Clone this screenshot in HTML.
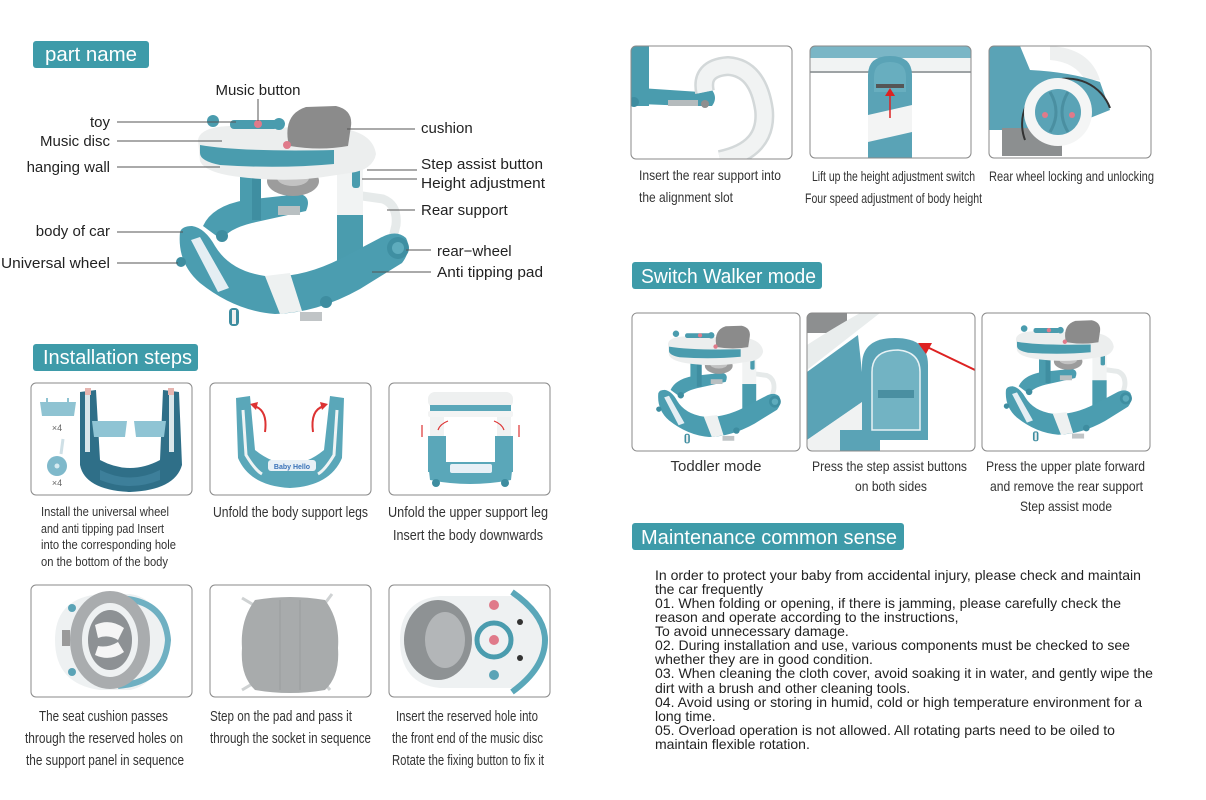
<!DOCTYPE html>
<html><head><meta charset="utf-8">
<style>
html,body{margin:0;padding:0;background:#fff;}
svg{display:block;}
text{font-family:"Liberation Sans",Arial,sans-serif;}
</style></head>
<body>
<svg width="1206" height="800" viewBox="0 0 1206 800" xmlns="http://www.w3.org/2000/svg">
<defs>
 <g id="walker">
  <!-- back arm of base -->
  <path d="M203 226 Q212 206 245 200 L300 194 Q312 197 306 211 L252 223 Q228 229 222 240 Z" fill="#4b9db0"/>
  <rect x="278" y="206" width="22" height="9" fill="#b9c0c2"/>
  <circle cx="222" cy="236" r="6" fill="#3e8da0"/>
  <!-- left column -->
  <rect x="240" y="168" width="21" height="52" fill="#4a9cae"/>
  <rect x="252" y="168" width="9" height="52" fill="#3f8ea1"/>
  <!-- seat fabric -->
  <ellipse cx="293" cy="181" rx="26" ry="15" fill="#9c9c9c"/>
  <ellipse cx="293" cy="178" rx="16" ry="8" fill="#c2c2c2"/>
  <!-- rear support -->
  <path d="M355 195 L383 199 Q398 205 396 225 L391 246" stroke="#e6eaea" stroke-width="9" fill="none" stroke-linecap="round"/>
  <!-- right column -->
  <rect x="337" y="158" width="26" height="62" fill="#f1f3f3"/>
  <rect x="337" y="215" width="26" height="62" fill="#4a9cae"/>
  <rect x="352" y="168" width="8" height="20" rx="3" fill="#4a9cae"/>
  <!-- base front -->
  <path d="M180 232 Q177 263 200 283 Q235 311 275 314 Q317 313 360 289 L402 263 Q412 250 406 238 Q396 229 380 238 L340 259 Q300 279 265 276 Q230 271 215 246 Q205 228 192 226 Q182 226 180 232 Z" fill="#4b9db0"/>
  <path d="M265 276 L290 273 L302 311 L280 314 Z" fill="#eef1f1"/>
  <path d="M191 240 L200 237 L229 288 L218 292 Z" fill="#e4eef3"/>
  <!-- rear wheel -->
  <circle cx="398" cy="248" r="11" fill="#3f8fa2"/>
  <circle cx="398" cy="248" r="6" fill="#5eacbd"/>
  <!-- small wheels -->
  <rect x="229" y="308" width="10" height="18" rx="4" fill="#3e8da0"/>
  <rect x="232" y="310" width="4" height="14" fill="#f0f0f0"/>
  <circle cx="326" cy="302" r="6" fill="#3e8da0"/>
  <circle cx="181" cy="262" r="5" fill="#3e8da0"/>
  <rect x="300" y="312" width="22" height="9" fill="#c0c4c6"/>
  <!-- tray -->
  <path d="M198 140 Q200 127 230 126 L345 129 Q373 134 376 154 Q373 170 350 173 L330 176 Q290 183 240 177 Q205 173 200 161 Z" fill="#eceeee"/>
  <path d="M200 145 Q240 152 334 150 L334 164 Q280 169 220 165 Q200 161 200 153 Z" fill="#4a9cae"/>
  <!-- seat back -->
  <path d="M288 141 Q284 114 306 107 L336 106 Q353 110 351 126 L348 146 Q320 151 290 146 Z" fill="#8b8b8b"/>
  <!-- toys -->
  <circle cx="213" cy="121" r="6" fill="#4a9cae"/>
  <rect x="230" y="120" width="48" height="9" rx="4" fill="#4a9cae"/>
  <circle cx="258" cy="124" r="4" fill="#e07a8a"/>
  <circle cx="279" cy="124" r="6" fill="#4a9cae"/>
  <circle cx="287" cy="145" r="4" fill="#e07a8a"/>
 </g>
 <clipPath id="c1"><rect x="31" y="383" width="161" height="112" rx="5"/></clipPath>
 <clipPath id="c2"><rect x="210" y="383" width="161" height="112" rx="5"/></clipPath>
 <clipPath id="c3"><rect x="389" y="383" width="161" height="112" rx="5"/></clipPath>
 <clipPath id="c4"><rect x="31" y="585" width="161" height="112" rx="5"/></clipPath>
 <clipPath id="c5"><rect x="210" y="585" width="161" height="112" rx="5"/></clipPath>
 <clipPath id="c6"><rect x="389" y="585" width="161" height="112" rx="5"/></clipPath>
 <clipPath id="r1"><rect x="631" y="46" width="161" height="113" rx="5"/></clipPath>
 <clipPath id="r2"><rect x="810" y="46" width="161" height="112" rx="5"/></clipPath>
 <clipPath id="r3"><rect x="989" y="46" width="162" height="112" rx="5"/></clipPath>
 <clipPath id="s2"><rect x="807" y="313" width="168" height="138" rx="5"/></clipPath>
</defs>

<!-- ===== headers ===== -->
<rect x="33" y="41" width="116" height="27" rx="3" fill="#3e9ba9"/>
<text x="45" y="61" font-size="20" fill="#fff" textLength="92" lengthAdjust="spacingAndGlyphs">part name</text>
<rect x="33" y="344" width="165" height="27" rx="3" fill="#3e9ba9"/>
<text x="43" y="364" font-size="20" fill="#fff" textLength="149" lengthAdjust="spacingAndGlyphs">Installation steps</text>
<rect x="632" y="262" width="190" height="27" rx="3" fill="#3e9ba9"/>
<text x="641" y="283" font-size="20" fill="#fff" textLength="175" lengthAdjust="spacingAndGlyphs">Switch Walker mode</text>
<rect x="632" y="523" width="272" height="27" rx="3" fill="#3e9ba9"/>
<text x="641" y="544" font-size="20" fill="#fff" textLength="256" lengthAdjust="spacingAndGlyphs">Maintenance common sense</text>

<!-- ===== part name diagram ===== -->
<use href="#walker"/>
<g stroke="#555" stroke-width="1">
 <line x1="117" y1="122" x2="236" y2="122"/>
 <line x1="117" y1="141" x2="222" y2="141"/>
 <line x1="117" y1="167" x2="220" y2="167"/>
 <line x1="117" y1="232" x2="183" y2="232"/>
 <line x1="117" y1="263" x2="178" y2="263"/>
 <line x1="258" y1="99" x2="258" y2="121"/>
 <line x1="347" y1="129" x2="415" y2="129"/>
 <line x1="367" y1="170" x2="417" y2="170"/>
 <line x1="362" y1="179" x2="417" y2="179"/>
 <line x1="387" y1="210" x2="415" y2="210"/>
 <line x1="406" y1="250" x2="431" y2="250"/>
 <line x1="372" y1="272" x2="431" y2="272"/>
</g>
<g font-size="15" fill="#222">
 <text x="110" y="127" text-anchor="end">toy</text>
 <text x="110" y="146" text-anchor="end">Music disc</text>
 <text x="110" y="172" text-anchor="end">hanging wall</text>
 <text x="110" y="236" text-anchor="end">body of car</text>
 <text x="110" y="268" text-anchor="end" textLength="109" lengthAdjust="spacingAndGlyphs">Universal wheel</text>
 <text x="258" y="95" text-anchor="middle">Music button</text>
 <text x="421" y="133">cushion</text>
 <text x="421" y="169" textLength="122" lengthAdjust="spacingAndGlyphs">Step assist button</text>
 <text x="421" y="188" textLength="124" lengthAdjust="spacingAndGlyphs">Height adjustment</text>
 <text x="421" y="215">Rear support</text>
 <text x="437" y="256">rear−wheel</text>
 <text x="437" y="277" textLength="106" lengthAdjust="spacingAndGlyphs">Anti tipping pad</text>
</g>

<!-- ===== installation boxes row 1 ===== -->
<g clip-path="url(#c1)">
 <path d="M40 402 L76 402 L74 416 L42 416 Z" fill="#8fc3d2"/>
 <rect x="46" y="398" width="2" height="5" fill="#8fc3d2"/><rect x="67" y="398" width="2" height="5" fill="#8fc3d2"/>
 <text x="57" y="431" font-size="9" fill="#666" text-anchor="middle">×4</text>
 <line x1="61" y1="454" x2="63" y2="439" stroke="#cfe0e6" stroke-width="3"/>
 <circle cx="57" cy="466" r="10" fill="#7fb9cb"/>
 <circle cx="57" cy="466" r="2.5" fill="#d6eaf0"/>
 <text x="57" y="486" font-size="9" fill="#666" text-anchor="middle">×4</text>
 <path d="M80 392 L96 390 L100 460 Q130 476 160 460 L163 390 L179 392 L182 465 Q175 490 130 492 Q85 490 80 465 Z" fill="#2f6f88"/>
 <rect x="85" y="392" width="5" height="60" fill="#d9e6ea"/>
 <rect x="169" y="392" width="5" height="60" fill="#d9e6ea"/>
 <rect x="85" y="388" width="6" height="7" fill="#e7b5b0"/><rect x="168" y="388" width="6" height="7" fill="#e7b5b0"/>
 <path d="M92 421 L127 421 L125 437 L94 437 Z" fill="#8fc4d4"/>
 <path d="M134 421 L166 421 L164 437 L136 437 Z" fill="#8fc4d4"/>
 <path d="M100 470 Q130 485 160 470 L160 480 Q130 492 100 480 Z" fill="#3d7f9a"/>
</g>
<rect x="31" y="383" width="161" height="112" rx="5" fill="none" stroke="#8a8a8a"/>

<g clip-path="url(#c2)">
 <path d="M236 398 L250 396 L255 450 Q290 478 324 450 L330 396 L344 398 L342 458 Q330 486 290 488 Q250 486 238 458 Z" fill="#5aa7b9"/>
 <path d="M243 410 L246 455 Q255 470 262 474" stroke="#eef3f4" stroke-width="3" fill="none"/>
 <path d="M337 410 L334 455 Q325 470 318 474" stroke="#eef3f4" stroke-width="3" fill="none"/>
 <rect x="268" y="460" width="48" height="11" rx="3" fill="#e8f0f6"/>
 <text x="292" y="469" font-size="7" fill="#3a72b8" text-anchor="middle" font-weight="bold">Baby Hello</text>
 <path d="M265 432 Q268 410 254 406" stroke="#d33" stroke-width="2" fill="none"/>
 <path d="M250 404 L258 402 L256 410 Z" fill="#d33"/>
 <path d="M313 432 Q310 410 324 406" stroke="#d33" stroke-width="2" fill="none"/>
 <path d="M328 404 L320 402 L322 410 Z" fill="#d33"/>
</g>
<rect x="210" y="383" width="161" height="112" rx="5" fill="none" stroke="#8a8a8a"/>

<g clip-path="url(#c3)">
 <rect x="428" y="392" width="85" height="16" rx="7" fill="#eef0f0"/>
 <rect x="430" y="405" width="81" height="7" fill="#5aa7b9"/>
 <rect x="428" y="411" width="85" height="6" rx="2" fill="#f3f4f4"/>
 <rect x="430" y="417" width="14" height="20" fill="#f0f2f2"/>
 <rect x="497" y="417" width="14" height="20" fill="#f0f2f2"/>
 <rect x="428" y="436" width="18" height="36" fill="#5aa7b9"/>
 <rect x="495" y="436" width="18" height="36" fill="#5aa7b9"/>
 <path d="M428 462 L513 462 L511 480 Q470 488 430 480 Z" fill="#5aa7b9"/>
 <rect x="450" y="464" width="42" height="9" rx="2" fill="#e8f0f6"/>
 <circle cx="436" cy="483" r="4" fill="#3e8da0"/><circle cx="505" cy="483" r="4" fill="#3e8da0"/>
 <g stroke="#d33" stroke-width="1.2" fill="none">
  <line x1="422" y1="425" x2="422" y2="437"/><line x1="519" y1="425" x2="519" y2="437"/>
  <path d="M448 421 Q440 424 438 430"/><path d="M494 421 Q502 424 504 430"/>
 </g>
</g>
<rect x="389" y="383" width="161" height="112" rx="5" fill="none" stroke="#8a8a8a"/>

<g font-size="15" fill="#333">
 <text x="41" y="516" font-size="13" textLength="128" lengthAdjust="spacingAndGlyphs">Install the universal wheel</text>
 <text x="41" y="533" font-size="13" textLength="123" lengthAdjust="spacingAndGlyphs">and anti tipping pad Insert</text>
 <text x="41" y="549" font-size="13" textLength="135" lengthAdjust="spacingAndGlyphs">into the corresponding hole</text>
 <text x="41" y="566" font-size="13" textLength="127" lengthAdjust="spacingAndGlyphs">on the bottom of the body</text>
 <text x="213" y="517" textLength="155" lengthAdjust="spacingAndGlyphs">Unfold the body support legs</text>
 <text x="388" y="517" textLength="160" lengthAdjust="spacingAndGlyphs">Unfold the upper support leg</text>
 <text x="393" y="540" textLength="150" lengthAdjust="spacingAndGlyphs">Insert the body downwards</text>
</g>

<!-- ===== installation boxes row 2 ===== -->
<g clip-path="url(#c4)">
 <path d="M55 640 Q55 598 100 594 L130 594 Q160 598 165 640 Q160 684 130 690 L100 690 Q55 684 55 640 Z" fill="#eef1f2"/>
 <path d="M118 598 Q165 600 168 640 Q165 682 118 686" stroke="#6fb0c2" stroke-width="6" fill="none"/>
 <ellipse cx="110" cy="640" rx="34" ry="43" fill="none" stroke="#a9acae" stroke-width="12"/>
 <ellipse cx="110" cy="640" rx="22" ry="30" fill="#8d9194"/>
 <path d="M95 625 Q110 618 124 628 L118 640 Q108 634 98 638 Z" fill="#f5f5f5"/>
 <path d="M95 655 Q110 662 124 652 L118 642 Q108 648 98 646 Z" fill="#f5f5f5"/>
 <rect x="62" y="630" width="8" height="16" fill="#9a9a9a"/>
 <circle cx="72" cy="608" r="4" fill="#5aa3b6"/><circle cx="72" cy="672" r="4" fill="#5aa3b6"/>
</g>
<rect x="31" y="585" width="161" height="112" rx="5" fill="none" stroke="#8a8a8a"/>

<g clip-path="url(#c5)">
 <g stroke="#cfd2d3" stroke-width="3">
  <line x1="262" y1="610" x2="242" y2="598"/><line x1="320" y1="610" x2="332" y2="594"/>
  <line x1="262" y1="678" x2="242" y2="690"/><line x1="320" y1="678" x2="330" y2="690"/>
 </g>
 <path d="M255 600 Q290 594 325 600 Q340 620 338 648 Q340 676 325 690 Q290 696 255 690 Q240 676 242 648 Q240 620 255 600 Z" fill="#a8abac"/>
 <line x1="280" y1="600" x2="280" y2="690" stroke="#9a9d9e"/>
 <line x1="300" y1="600" x2="300" y2="690" stroke="#9a9d9e"/>
</g>
<rect x="210" y="585" width="161" height="112" rx="5" fill="none" stroke="#8a8a8a"/>

<g clip-path="url(#c6)">
 <path d="M400 640 Q400 600 440 596 L520 596 Q545 610 545 640 Q545 672 520 688 L440 688 Q400 684 400 640 Z" fill="#eef1f2"/>
 <ellipse cx="438" cy="640" rx="34" ry="40" fill="#8e9294"/>
 <ellipse cx="445" cy="640" rx="20" ry="28" fill="#b3b6b8"/>
 <path d="M512 592 Q545 615 545 640 Q545 668 512 692" stroke="#5aa7b9" stroke-width="6" fill="none"/>
 <circle cx="494" cy="640" r="17" fill="none" stroke="#4a9cae" stroke-width="5"/>
 <circle cx="494" cy="640" r="5" fill="#e07a8a"/>
 <circle cx="494" cy="605" r="5" fill="#e07a8a"/><circle cx="520" cy="622" r="3" fill="#333"/><circle cx="520" cy="658" r="3" fill="#333"/>
 <circle cx="494" cy="675" r="5" fill="#5aa3b6"/>
</g>
<rect x="389" y="585" width="161" height="112" rx="5" fill="none" stroke="#8a8a8a"/>

<g font-size="15" fill="#333">
 <text x="39" y="721" textLength="129" lengthAdjust="spacingAndGlyphs">The seat cushion passes</text>
 <text x="25" y="743" textLength="158" lengthAdjust="spacingAndGlyphs">through the reserved holes on</text>
 <text x="26" y="765" textLength="158" lengthAdjust="spacingAndGlyphs">the support panel in sequence</text>
 <text x="210" y="721" textLength="142" lengthAdjust="spacingAndGlyphs">Step on the pad and pass it</text>
 <text x="210" y="743" textLength="161" lengthAdjust="spacingAndGlyphs">through the socket in sequence</text>
 <text x="396" y="721" textLength="142" lengthAdjust="spacingAndGlyphs">Insert the reserved hole into</text>
 <text x="392" y="743" textLength="151" lengthAdjust="spacingAndGlyphs">the front end of the music disc</text>
 <text x="392" y="765" textLength="152" lengthAdjust="spacingAndGlyphs">Rotate the fixing button to fix it</text>
</g>

<!-- ===== right top boxes ===== -->
<g clip-path="url(#r1)">
 <rect x="631" y="46" width="18" height="60" fill="#4a9cae"/>
 <path d="M640 88 L700 92 L712 90 Q718 98 712 106 L690 106 L640 104 Z" fill="#4a9cae"/>
 <rect x="668" y="100" width="30" height="6" fill="#b5bbbd"/>
 <circle cx="705" cy="104" r="4" fill="#8f8f8f"/>
 <circle cx="634" cy="102" r="5" fill="#3e8da0"/>
 <path d="M705 92 Q700 68 728 66 Q758 68 764 110 Q768 150 720 160" stroke="#d3d8d9" stroke-width="20" fill="none"/>
 <path d="M705 92 Q700 68 728 66 Q758 68 764 110 Q768 150 720 160" stroke="#f1f3f3" stroke-width="15" fill="none"/>
</g>
<rect x="631" y="46" width="161" height="113" rx="5" fill="none" stroke="#8a8a8a"/>

<g clip-path="url(#r2)">
 <rect x="810" y="46" width="161" height="14" fill="#7ab6c6"/>
 <rect x="810" y="58" width="161" height="14" fill="#f1f3f3"/>
 <line x1="810" y1="72" x2="971" y2="72" stroke="#9ea3a5" stroke-width="2"/>
 <path d="M868 120 L868 75 Q868 56 890 56 Q912 56 912 75 L912 120 Z" fill="#5aa3b6"/>
 <path d="M874 92 L874 77 Q874 62 890 62 Q906 62 906 77 L906 92 Z" fill="#68aebf"/>
 <rect x="876" y="84" width="28" height="4" fill="#555"/>
 <path d="M868 115 L912 105 L912 135 L868 142 Z" fill="#f3f4f4"/>
 <path d="M868 142 L912 132 L912 158 L868 158 Z" fill="#5aa3b6"/>
 <line x1="890" y1="118" x2="890" y2="92" stroke="#d22" stroke-width="1.5"/>
 <path d="M885 96 L890 88 L895 96 Z" fill="#d22"/>
</g>
<rect x="810" y="46" width="161" height="112" rx="5" fill="none" stroke="#8a8a8a"/>

<g clip-path="url(#r3)">
 <path d="M1050 46 Q1090 48 1100 80 L1085 80 Q1075 62 1050 60 Z" fill="#eef0f0"/>
 <path d="M989 46 L1020 46 L1030 70 Q1070 72 1100 82 L1110 110 L1060 130 L989 130 Z" fill="#5aa3b6"/>
 <rect x="1002" y="128" width="60" height="28" fill="#8c8f90"/>
 <path d="M1025 140 A35 35 0 1 1 1110 108" stroke="#333" stroke-width="2" fill="none"/>
 <circle cx="1058" cy="112" r="34" fill="#f4f5f5"/>
 <circle cx="1058" cy="112" r="23" fill="#5aa3b6"/>
 <path d="M1050 92 Q1062 112 1050 132 M1068 92 Q1056 112 1068 132" stroke="#4a8fa1" stroke-width="3" fill="none"/>
 <circle cx="1045" cy="115" r="3" fill="#e07a8a"/><circle cx="1072" cy="115" r="3" fill="#e07a8a"/>
</g>
<rect x="989" y="46" width="162" height="112" rx="5" fill="none" stroke="#8a8a8a"/>

<g font-size="14" fill="#333">
 <text x="639" y="180" textLength="142" lengthAdjust="spacingAndGlyphs">Insert the rear support into</text>
 <text x="639" y="202" textLength="94" lengthAdjust="spacingAndGlyphs">the alignment slot</text>
 <text x="812" y="181" textLength="163" lengthAdjust="spacingAndGlyphs">Lift up the height adjustment switch</text>
 <text x="805" y="203" textLength="177" lengthAdjust="spacingAndGlyphs">Four speed adjustment of body height</text>
 <text x="989" y="181" textLength="165" lengthAdjust="spacingAndGlyphs">Rear wheel locking and unlocking</text>
</g>

<!-- ===== switch walker mode ===== -->
<rect x="632" y="313" width="168" height="138" rx="5" fill="#fff" stroke="#8a8a8a"/>
<use href="#walker" transform="translate(562,269) scale(0.535)"/>

<g clip-path="url(#s2)">
 <rect x="807" y="313" width="40" height="20" fill="#8d8f90"/>
 <path d="M807 345 Q830 330 860 313 L880 313 L807 370 Z" fill="#e9eded"/>
 <path d="M807 372 L858 335 L865 400 L807 440 Z" fill="#5aa3b6"/>
 <path d="M807 440 L865 400 L870 451 L807 451 Z" fill="#f0f2f2"/>
 <rect x="840" y="430" width="40" height="21" fill="#5aa3b6"/>
 <path d="M862 440 L862 365 Q862 338 895 338 Q928 338 928 365 L928 440 Z" fill="#5aa3b6"/>
 <path d="M872 430 L872 372 Q872 350 898 350 Q920 352 920 372 L920 430 Z" fill="#72b3c3" stroke="#e8f2f5" stroke-width="1.5"/>
 <rect x="878" y="390" width="36" height="8" fill="#4a8fa1"/>
 <line x1="975" y1="370" x2="925" y2="346" stroke="#d22" stroke-width="2"/>
 <path d="M918 343 L932 343 L926 354 Z" fill="#d22"/>
</g>
<rect x="807" y="313" width="168" height="138" rx="5" fill="none" stroke="#8a8a8a"/>

<rect x="982" y="313" width="168" height="138" rx="5" fill="#fff" stroke="#8a8a8a"/>
<use href="#walker" transform="translate(907,262) scale(0.55)"/>

<g font-size="14" fill="#333">
 <text x="716" y="471" font-size="15" text-anchor="middle">Toddler mode</text>
 <text x="812" y="471" textLength="155" lengthAdjust="spacingAndGlyphs">Press the step assist buttons</text>
 <text x="855" y="491" textLength="72" lengthAdjust="spacingAndGlyphs">on both sides</text>
 <text x="986" y="471" textLength="159" lengthAdjust="spacingAndGlyphs">Press the upper plate forward</text>
 <text x="990" y="491" textLength="153" lengthAdjust="spacingAndGlyphs">and remove the rear support</text>
 <text x="1020" y="511" textLength="92" lengthAdjust="spacingAndGlyphs">Step assist mode</text>
</g>

<!-- ===== maintenance text ===== -->
<g font-size="14" fill="#222">
 <text x="655" y="580" textLength="486" lengthAdjust="spacingAndGlyphs">In order to protect your baby from accidental injury, please check and maintain</text>
 <text x="655" y="594">the car frequently</text>
 <text x="655" y="608" textLength="466" lengthAdjust="spacingAndGlyphs">01. When folding or opening, if there is jamming, please carefully check the</text>
 <text x="655" y="622">reason and operate according to the instructions,</text>
 <text x="655" y="636">To avoid unnecessary damage.</text>
 <text x="655" y="650" textLength="475" lengthAdjust="spacingAndGlyphs">02. During installation and use, various components must be checked to see</text>
 <text x="655" y="664">whether they are in good condition.</text>
 <text x="655" y="678" textLength="498" lengthAdjust="spacingAndGlyphs">03. When cleaning the cloth cover, avoid soaking it in water, and gently wipe the</text>
 <text x="655" y="693">dirt with a brush and other cleaning tools.</text>
 <text x="655" y="707" textLength="487" lengthAdjust="spacingAndGlyphs">04. Avoid using or storing in humid, cold or high temperature environment for a</text>
 <text x="655" y="721">long time.</text>
 <text x="655" y="735" textLength="460" lengthAdjust="spacingAndGlyphs">05. Overload operation is not allowed. All rotating parts need to be oiled to</text>
 <text x="655" y="749">maintain flexible rotation.</text>
</g>
</svg>
</body></html>
